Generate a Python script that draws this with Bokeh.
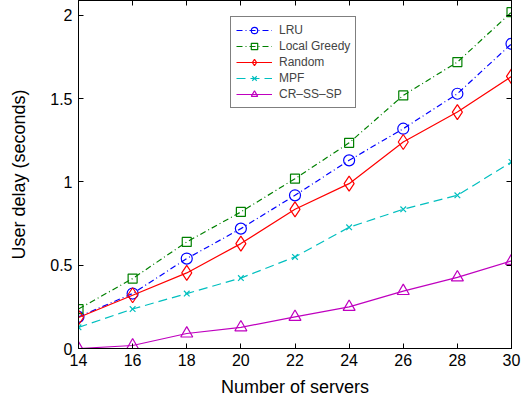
from bokeh.plotting import figure
from bokeh.models import LinearAxis, Range1d, Legend, LegendItem, FixedTicker
from bokeh.embed import file_html
from bokeh.resources import INLINE

servers = [14, 16, 18, 20, 22, 24, 26, 28, 30]
lru = [0.19, 0.33, 0.54, 0.72, 0.92, 1.13, 1.32, 1.53, 1.83]
greedy = [0.237, 0.42, 0.64, 0.82, 1.02, 1.235, 1.52, 1.72, 2.02]
rand_ = [0.186, 0.32, 0.454, 0.63, 0.836, 0.99, 1.24, 1.42, 1.634]
mpf = [0.127, 0.237, 0.33, 0.423, 0.55, 0.728, 0.836, 0.92, 1.12]
crss = [0.0, 0.018, 0.09, 0.127, 0.19, 0.25, 0.345, 0.427, 0.526]

x_ticks = [14, 16, 18, 20, 22, 24, 26, 28, 30]
y_ticks = [0, 0.5, 1, 1.5, 2]
y_tick_labels = ["0", "0.5", "1", "1.5", "2"]

FONT = "Liberation Sans"

p = figure(width=523, height=400, output_backend="svg", toolbar_location=None,
           x_range=Range1d(14, 30), y_range=Range1d(0, 2.09),
           min_border_left=78, min_border_right=12, min_border_top=0, min_border_bottom=52,
           x_axis_label="Number of servers", y_axis_label="User delay (seconds)")
p.grid.visible = False
p.outline_line_color = "black"
p.outline_line_width = 1
p.background_fill_color = "white"
p.border_fill_color = "white"

for ax in p.xaxis + p.yaxis:
    ax.major_tick_in = 5
    ax.major_tick_out = 0
    ax.minor_tick_in = 0
    ax.minor_tick_out = 0
    ax.axis_line_color = "black"
    ax.major_label_text_font = FONT
    ax.major_label_text_font_size = "16px"
    ax.major_label_text_color = "black"
    ax.axis_label_text_font = FONT
    ax.axis_label_text_font_size = "18px"
    ax.axis_label_text_font_style = "normal"
    ax.axis_label_text_color = "black"

p.xaxis.ticker = FixedTicker(ticks=x_ticks)
p.yaxis.ticker = FixedTicker(ticks=y_ticks)
p.yaxis.major_label_overrides = {t: l for t, l in zip(y_ticks, y_tick_labels)}
p.xaxis.major_label_standoff = 5
p.yaxis.major_label_standoff = 6
p.xaxis.axis_label_standoff = 8
p.yaxis.axis_label_standoff = 18

top = LinearAxis(ticker=FixedTicker(ticks=x_ticks), major_label_text_font_size="0px",
                 major_tick_in=5, major_tick_out=0, minor_tick_in=0, minor_tick_out=0,
                 major_label_standoff=0, axis_line_color="black")
right = LinearAxis(ticker=FixedTicker(ticks=y_ticks), major_label_text_font_size="0px",
                   major_tick_in=5, major_tick_out=0, minor_tick_in=0, minor_tick_out=0,
                   major_label_standoff=0, axis_line_color="black")
p.add_layout(top, "above")
p.add_layout(right, "right")

items = []
series = [
    ("LRU", lru, "#0000ff", "6 3 1 3", "circle", 11),
    ("Local Greedy", greedy, "#008000", "6 3 1 3", "square", 9),
    ("Random", rand_, "#ff0000", "solid", "diamond", 15),
    ("MPF", mpf, "#00bfbf", "9 5", "x", 8),
    ("CR\u2013SS\u2013SP", crss, "#bf00bf", "solid", "triangle", 12),
]
for name, ys, col, dash, mk, sz in series:
    r1 = p.line(servers, ys, line_color=col, line_width=1.2, line_dash=dash)
    r2 = p.scatter(servers, ys, marker=mk, size=sz, line_color=col, fill_color=None, line_width=1.2)
    items.append(LegendItem(label=name, renderers=[r1, r2]))

legend = Legend(items=items, location=(152, 240), label_text_font=FONT,
                label_text_font_size="12px", glyph_width=36, glyph_height=16,
                label_height=16, spacing=0, padding=5, margin=0, label_standoff=7,
                border_line_color="black", border_line_width=1, background_fill_alpha=1)
p.add_layout(legend)

open("out.html", "w").write(file_html(p, INLINE))
